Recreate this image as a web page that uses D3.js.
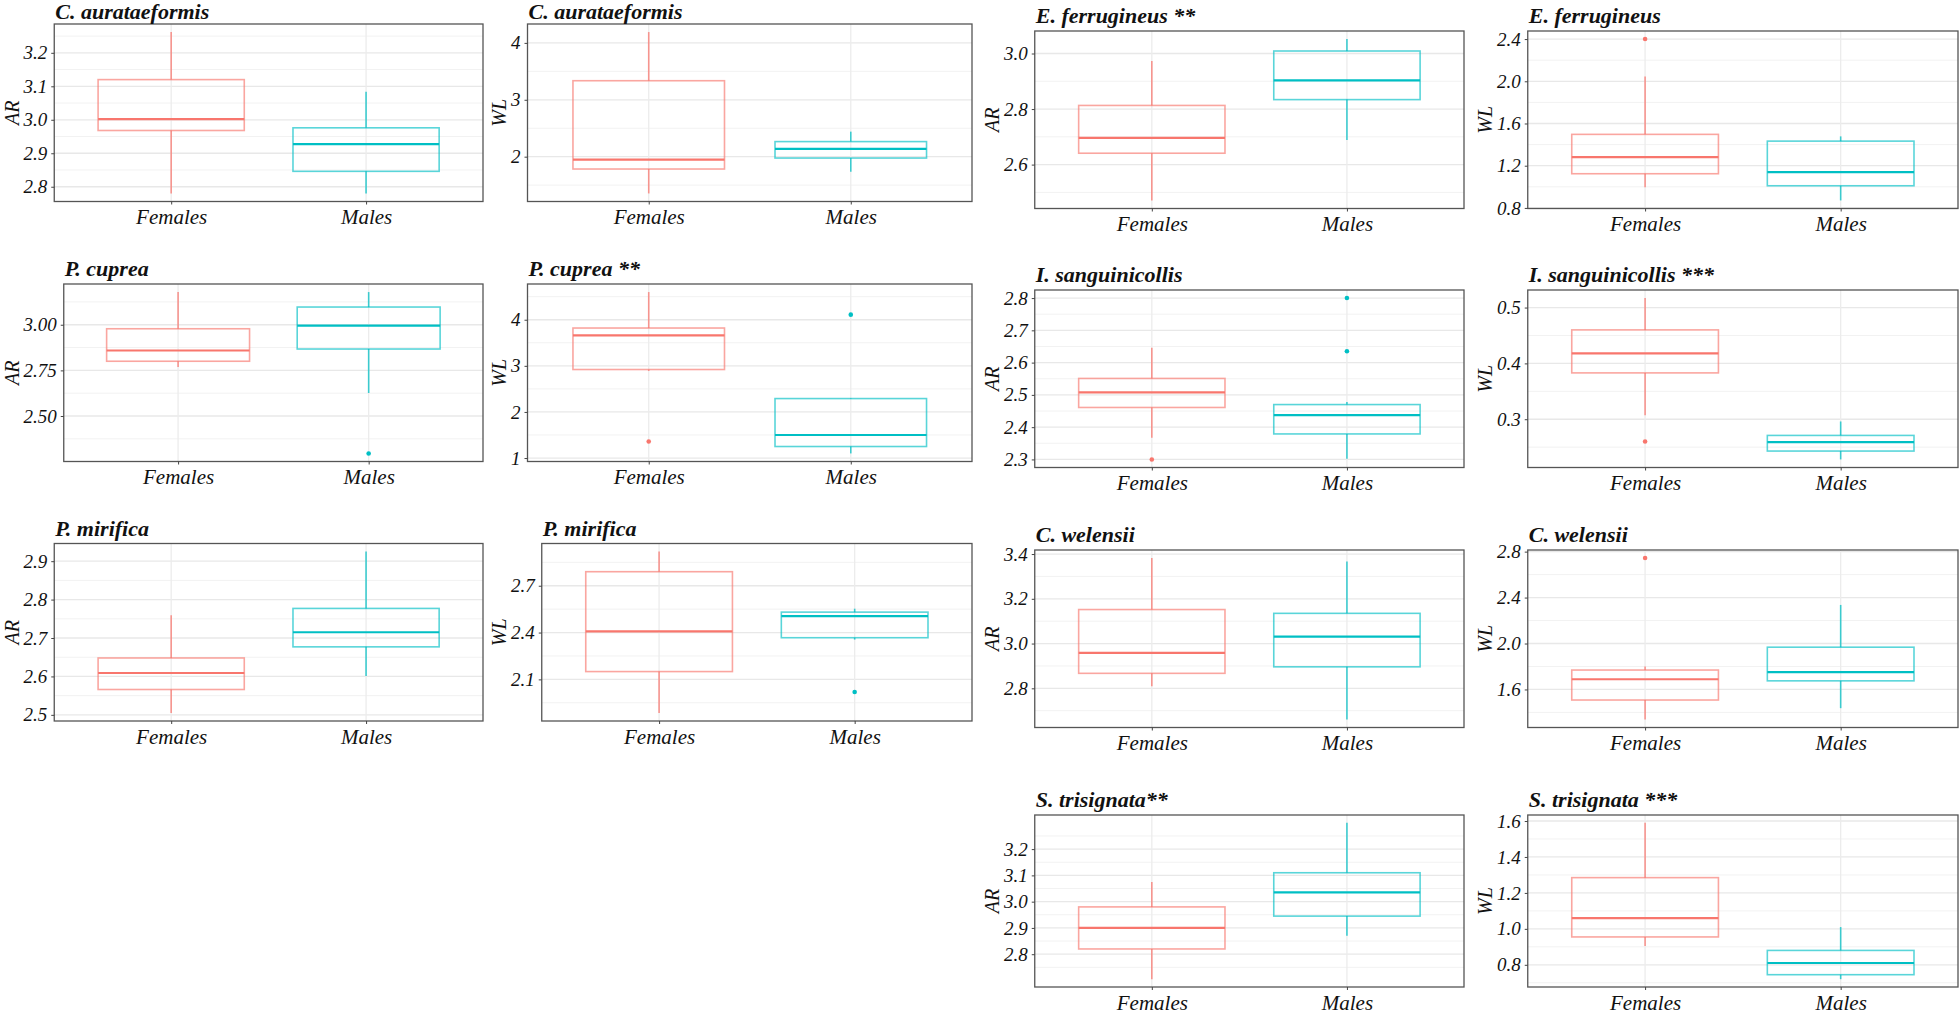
<!DOCTYPE html>
<html>
<head>
<meta charset="utf-8">
<script src="https://cdn.jsdelivr.net/npm/d3@7"></script>
<style>
  html, body { margin: 0; padding: 0; background: #fff; }
  svg { display: block; }
  text { font-family: "Liberation Serif", "Times New Roman", serif; fill: #111; }
</style>
</head>
<body>
<svg id="chart" width="1960" height="1014"></svg>
<script>
// ---------------- DATA ----------------
const sexes = ["Females", "Males"];
const panelTitles = [
  "C. aurataeformis", "C. aurataeformis", "E. ferrugineus **", "E. ferrugineus",
  "P. cuprea", "P. cuprea **", "I. sanguinicollis", "I. sanguinicollis ***",
  "P. mirifica", "P. mirifica", "C. welensii", "C. welensii",
  "S. trisignata**", "S. trisignata ***"
];
const panelMeasures = ["AR","WL","AR","WL","AR","WL","AR","WL","AR","WL","AR","WL","AR","WL"];
// box statistics: [lower whisker, Q1, median, Q3, upper whisker]
const femaleStats = [
  [2.780, 2.968, 3.002, 3.120, 3.262],
  [1.354, 1.783, 1.947, 3.335, 4.190],
  [2.471, 2.641, 2.696, 2.813, 2.973],
  [0.997, 1.124, 1.282, 1.497, 2.046],
  [2.769, 2.800, 2.859, 2.978, 3.179],
  [2.890, 2.920, 3.660, 3.820, 4.600],
  [2.367, 2.461, 2.508, 2.551, 2.646],
  [0.307, 0.383, 0.418, 0.460, 0.517],
  [2.505, 2.566, 2.609, 2.648, 2.759],
  [1.885, 2.150, 2.408, 2.790, 2.919],
  [2.809, 2.867, 2.958, 3.152, 3.382],
  [1.339, 1.508, 1.689, 1.769, 1.799],
  [2.705, 2.820, 2.900, 2.980, 3.075],
  [0.905, 0.955, 1.060, 1.285, 1.590]
];
const maleStats = [
  [2.780, 2.846, 2.927, 2.976, 3.084],
  [1.735, 1.976, 2.136, 2.265, 2.440],
  [2.689, 2.834, 2.903, 3.009, 3.052],
  [0.871, 1.010, 1.139, 1.433, 1.478],
  [2.626, 2.867, 2.995, 3.097, 3.179],
  [1.100, 1.250, 1.500, 2.290, 2.300],
  [2.302, 2.379, 2.437, 2.470, 2.478],
  [0.228, 0.243, 0.259, 0.271, 0.296],
  [2.601, 2.677, 2.715, 2.777, 2.925],
  [2.355, 2.367, 2.505, 2.531, 2.553],
  [2.661, 2.896, 3.031, 3.135, 3.367],
  [1.437, 1.675, 1.751, 1.968, 2.336],
  [2.870, 2.945, 3.035, 3.110, 3.300],
  [0.720, 0.745, 0.810, 0.880, 1.010]
];
const femaleOutliers = [[], [], [], [2.40], [], [1.36], [2.30], [0.260], [], [], [], [2.744], [], []];
const maleOutliers   = [[], [], [], [], [2.295], [4.11], [2.80, 2.635], [], [], [2.019], [], [], [], []];
const yTickLabels = [
  ["2.8","2.9","3.0","3.1","3.2"],
  ["2","3","4"],
  ["2.6","2.8","3.0"],
  ["0.8","1.2","1.6","2.0","2.4"],
  ["2.50","2.75","3.00"],
  ["1","2","3","4"],
  ["2.3","2.4","2.5","2.6","2.7","2.8"],
  ["0.3","0.4","0.5"],
  ["2.5","2.6","2.7","2.8","2.9"],
  ["2.1","2.4","2.7"],
  ["2.8","3.0","3.2","3.4"],
  ["1.6","2.0","2.4","2.8"],
  ["2.8","2.9","3.0","3.1","3.2"],
  ["0.8","1.0","1.2","1.4","1.6"]
];

// ---------------- LAYOUT ----------------
const panelCol = [0,1,2,3, 0,1,2,3, 0,1,2,3, 2,3];
const panelRow = [0,0,0,0, 1,1,1,1, 2,2,2,2, 3,3];
const colTitleX = [11.5, 499, 992, 1485];
const colRight  = [483, 972, 1464, 1958];
const rowTopLeft  = [24, 284, 543.5];
const rowTopRight = [31, 290, 550, 815];
const rowHeightRight = [177.5, 177.5, 177.5, 172];
const colors = { Females: "#F8766D", Males: "#00BFC4" };

const svg = d3.select("#chart");
const tickFont = 19, labelFont = 21, titleFont = 22, axisTitleFont = 20;

const measurer = svg.append("text").attr("font-style", "italic").attr("font-size", tickFont).attr("visibility","hidden");
function textW(s) { measurer.text(s); return measurer.node().getComputedTextLength(); }

panelTitles.forEach((title, i) => {
  const c = panelCol[i], r = panelRow[i];
  const top = c < 2 ? rowTopLeft[r] : rowTopRight[r];
  const bottom = top + (c < 2 ? 177.5 : rowHeightRight[r]);
  const labels = yTickLabels[i];
  const maxW = d3.max(labels, textW);
  const left = colTitleX[c] + 12 + maxW + 7;
  const right = colRight[c];

  const fs = femaleStats[i], ms = maleStats[i];
  const allVals = fs.concat(ms, femaleOutliers[i], maleOutliers[i]);
  const lo = d3.min(allVals), hi = d3.max(allVals), pad = (hi - lo) * 0.05;
  const y = d3.scaleLinear().domain([lo - pad, hi + pad]).range([bottom, top]);
  const x = d3.scalePoint().domain(sexes).range([left, right]).padding(0.6);
  const step = x.step();

  const g = svg.append("g");
  g.append("rect").attr("x", left).attr("y", top).attr("width", right - left).attr("height", bottom - top).attr("fill", "#fff");

  const major = labels.map(Number);
  const st = major[1] - major[0];
  const minor = [];
  for (let k = -1; k < major.length; k++) {
    const v = major[0] + st * (k + 0.5);
    if (v >= y.domain()[0] && v <= y.domain()[1]) minor.push(v);
  }
  g.selectAll(".minor").data(minor).join("line")
    .attr("x1", left).attr("x2", right).attr("y1", d => y(d)).attr("y2", d => y(d))
    .attr("stroke", "#f2f2f2").attr("stroke-width", 1);
  g.selectAll(".major").data(major).join("line")
    .attr("x1", left).attr("x2", right).attr("y1", d => y(d)).attr("y2", d => y(d))
    .attr("stroke", "#e8e8e8").attr("stroke-width", 1.3);
  g.selectAll(".vmajor").data(sexes).join("line")
    .attr("x1", d => x(d)).attr("x2", d => x(d)).attr("y1", top).attr("y2", bottom)
    .attr("stroke", "#ececec").attr("stroke-width", 1.3);

  const boxes = [{ sex: "Females", s: fs, o: femaleOutliers[i] }, { sex: "Males", s: ms, o: maleOutliers[i] }];
  boxes.forEach(b => {
    const cx = x(b.sex), col = colors[b.sex], bw = step * 0.75;
    const bg = g.append("g");
    bg.append("line").attr("x1", cx).attr("x2", cx).attr("y1", y(b.s[4])).attr("y2", y(b.s[3]))
      .attr("stroke", col).attr("stroke-width", 1.6).attr("stroke-opacity", 0.75);
    bg.append("line").attr("x1", cx).attr("x2", cx).attr("y1", y(b.s[1])).attr("y2", y(b.s[0]))
      .attr("stroke", col).attr("stroke-width", 1.6).attr("stroke-opacity", 0.75);
    bg.append("rect").attr("x", cx - bw / 2).attr("width", bw)
      .attr("y", y(b.s[3])).attr("height", y(b.s[1]) - y(b.s[3]))
      .attr("fill", "none").attr("stroke", col).attr("stroke-width", 1.6).attr("stroke-opacity", 0.65);
    bg.append("line").attr("x1", cx - bw / 2).attr("x2", cx + bw / 2).attr("y1", y(b.s[2])).attr("y2", y(b.s[2]))
      .attr("stroke", col).attr("stroke-width", 2.2);
    bg.selectAll("circle").data(b.o).join("circle")
      .attr("cx", cx).attr("cy", d => y(d)).attr("r", 2.3).attr("fill", col);
  });

  g.append("rect").attr("x", left).attr("y", top).attr("width", right - left).attr("height", bottom - top)
    .attr("fill", "none").attr("stroke", "#555").attr("stroke-width", 1.3);

  const ya = d3.axisLeft(y).tickValues(major).tickFormat((d, k) => labels[k]).tickSize(3).tickPadding(4);
  const yg = g.append("g").attr("transform", `translate(${left},0)`).call(ya);
  yg.select(".domain").remove();
  yg.selectAll(".tick line").attr("stroke", "#444");
  yg.selectAll(".tick text").attr("font-family", "Liberation Serif").attr("font-style", "italic")
    .attr("font-size", tickFont).attr("fill", "#111");

  const xa = d3.axisBottom(x).tickSize(3).tickPadding(5);
  const xg = g.append("g").attr("transform", `translate(0,${bottom})`).call(xa);
  xg.select(".domain").remove();
  xg.selectAll(".tick line").attr("stroke", "#444");
  xg.selectAll(".tick text").attr("font-family", "Liberation Serif").attr("font-style", "italic")
    .attr("font-size", labelFont).attr("fill", "#111");

  g.append("text").attr("transform", `translate(${colTitleX[c]},${(top + bottom) / 2}) rotate(-90)`)
    .attr("text-anchor", "middle").attr("dominant-baseline", "central")
    .attr("font-style", "italic").attr("font-size", axisTitleFont).text(panelMeasures[i]);

  g.append("text").attr("x", left + 1).attr("y", Math.max(top - 8, 19))
    .attr("font-style", "italic").attr("font-weight", "bold").attr("font-size", titleFont).text(title);
});
measurer.remove();
</script>
</body>
</html>
